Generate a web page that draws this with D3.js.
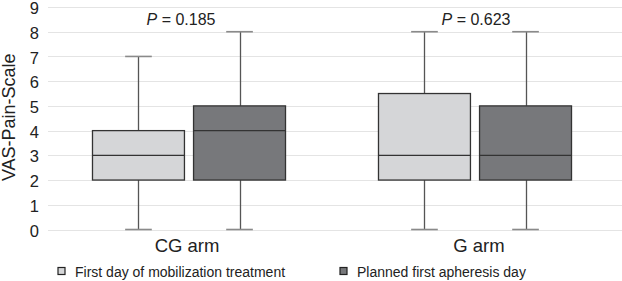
<!DOCTYPE html>
<html>
<head>
<meta charset="utf-8">
<script src="https://cdn.jsdelivr.net/npm/d3@7"></script>
<style>
  body { margin: 0; background: #fff; }
  svg { display: block; font-family: "Liberation Sans", Arial, sans-serif; }
</style>
</head>
<body>
<svg id="chart"></svg>
<script>
// data
const arms = ['CG arm', 'G arm']
const series = ['First day of mobilization treatment', 'Planned first apheresis day']
const pValues = ['0.185', '0.623']
// [min, q1, median, q3, max] per arm, per series
const firstDay = [[0, 2, 3, 4, 7], [0, 2, 3, 5.5, 8]]
const plannedDay = [[0, 2, 4, 5, 8], [0, 2, 3, 5, 8]]
const yTicks = [0, 1, 2, 3, 4, 5, 6, 7, 8, 9]

const colors = {'First day of mobilization treatment': '#d5d6d8', 'Planned first apheresis day': '#77787b'}

const width = 622, height = 281
const margin = {top: 7, right: 0, bottom: 52, left: 48}

const boxes = []
arms.forEach((a, i) => {
    boxes.push({arm: a, series: series[0], v: firstDay[i]})
    boxes.push({arm: a, series: series[1], v: plannedDay[i]})
})

const svg = d3.select('#chart')
    .attr('width', width)
    .attr('height', height)

const x0 = d3.scaleBand()
    .domain(arms)
    .range([margin.left - 2, width - 4])

const x1 = d3.scaleBand()
    .domain(series)
    .range([0, x0.bandwidth()])
    .paddingInner(0.09)
    .paddingOuter(0.46)

const y = d3.scaleLinear()
    .domain([0, 9])
    .range([height - margin.bottom + 0.5, margin.top])

// grid
svg.append('g')
    .selectAll('line')
    .data(yTicks)
    .join('line')
    .attr('x1', margin.left)
    .attr('x2', width)
    .attr('y1', d => Math.round(y(d)) + 0.5)
    .attr('y2', d => Math.round(y(d)) + 0.5)
    .attr('stroke', '#e4e4e4')
    .attr('stroke-width', 1.2)

// y axis labels
const yAxis = d3.axisLeft(y).tickValues(yTicks).tickSize(0).tickPadding(9)
svg.append('g')
    .attr('transform', `translate(${margin.left},0)`)
    .call(yAxis)
    .call(g => g.select('.domain').remove())
    .call(g => g.selectAll('text')
        .attr('font-size', 16.5)
        .attr('dy', '0.4em')
        .attr('fill', '#222')
        .attr('font-family', '"Liberation Sans", Arial, sans-serif'))

svg.append('text')
    .attr('transform', `translate(15,${y(4.5) - 1}) rotate(-90)`)
    .attr('text-anchor', 'middle')
    .attr('font-size', 18)
    .attr('fill', '#222')
    .text('VAS-Pain-Scale')

const bx = d => x0(d.arm) + x1(d.series)
const cx = d => bx(d) + x1.bandwidth() / 2
const capW = x1.bandwidth() * 0.29

const g = svg.append('g')

// whiskers
g.selectAll('.whisk-up')
    .data(boxes)
    .join('line')
    .attr('x1', d => Math.round(cx(d)) + 0.5)
    .attr('x2', d => Math.round(cx(d)) + 0.5)
    .attr('y1', d => y(d.v[3]))
    .attr('y2', d => y(d.v[4]))
    .attr('stroke', '#555')
    .attr('stroke-width', 1.3)

g.selectAll('.whisk-down')
    .data(boxes)
    .join('line')
    .attr('x1', d => Math.round(cx(d)) + 0.5)
    .attr('x2', d => Math.round(cx(d)) + 0.5)
    .attr('y1', d => y(d.v[1]))
    .attr('y2', d => y(d.v[0]))
    .attr('stroke', '#555')
    .attr('stroke-width', 1.3)

// caps
boxes.forEach(d => {
    [d.v[0], d.v[4]].forEach(val => {
        g.append('line')
            .attr('x1', cx(d) - capW / 2)
            .attr('x2', cx(d) + capW / 2)
            .attr('y1', y(val))
            .attr('y2', y(val))
            .attr('stroke', '#8a8a8a')
            .attr('stroke-width', 1.6)
    })
})

// boxes
g.selectAll('.box')
    .data(boxes)
    .join('rect')
    .attr('class', 'box')
    .attr('x', d => bx(d))
    .attr('y', d => y(d.v[3]))
    .attr('width', x1.bandwidth())
    .attr('height', d => y(d.v[1]) - y(d.v[3]))
    .attr('fill', d => colors[d.series])
    .attr('stroke', '#333')
    .attr('stroke-width', 1.3)

// medians
g.selectAll('.median')
    .data(boxes)
    .join('line')
    .attr('x1', d => bx(d))
    .attr('x2', d => bx(d) + x1.bandwidth())
    .attr('y1', d => y(d.v[2]))
    .attr('y2', d => y(d.v[2]))
    .attr('stroke', '#333')
    .attr('stroke-width', 1.4)

// p values
const pText = svg.append('g')
    .selectAll('text')
    .data(arms)
    .join('text')
    .attr('x', (d, i) => x0(d) + x0.bandwidth() / 2 - (i === 0 ? 8 : -1))
    .attr('y', 25)
    .attr('text-anchor', 'middle')
    .attr('font-size', 16)
    .attr('fill', '#222')
pText.append('tspan').attr('font-style', 'italic').text('P')
pText.append('tspan').text((d, i) => ` = ${pValues[i]}`)

// x labels
svg.append('g')
    .selectAll('text')
    .data(arms)
    .join('text')
    .attr('x', (d, i) => x0(d) + x0.bandwidth() / 2 + (i === 0 ? -2 : 4))
    .attr('y', 252)
    .attr('text-anchor', 'middle')
    .attr('font-size', 18.5)
    .attr('fill', '#222')
    .text(d => d)

// legend
const legendX = [58, 340]
const leg = svg.append('g')
    .selectAll('g')
    .data(series)
    .join('g')
    .attr('transform', (d, i) => `translate(${legendX[i]},267.5)`)
leg.append('rect')
    .attr('width', 7)
    .attr('height', 7)
    .attr('fill', d => colors[d])
    .attr('stroke', '#222')
    .attr('stroke-width', 1.2)
leg.append('text')
    .attr('x', 17)
    .attr('y', 9.5)
    .attr('font-size', 14)
    .attr('fill', '#222')
    .text(d => d)
</script>
</body>
</html>
